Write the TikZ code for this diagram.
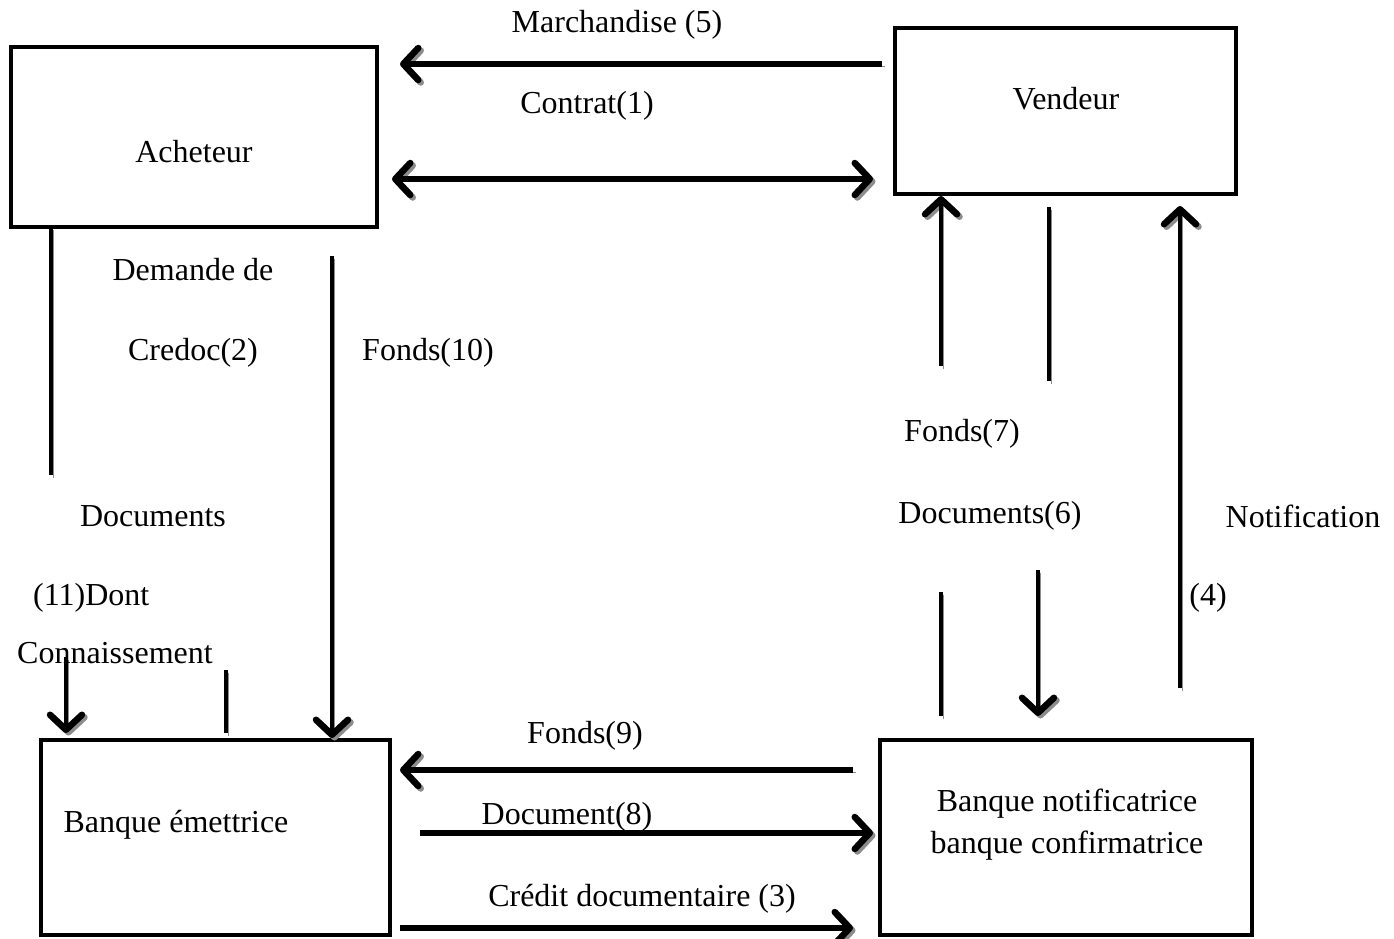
\documentclass[tikz,border=0pt]{standalone}
\usepackage{fontspec}
\setmainfont{Liberation Serif}
\usetikzlibrary{arrows.meta}
\begin{document}
\begin{tikzpicture}[x=1pt,y=-1pt,
  every node/.style={font=\fontsize{32}{38}\selectfont, inner sep=0pt},
  shade/.style={preaction={draw=black!45, transform canvas={shift={(2.5pt,-2.5pt)}}}},
  boxx/.style={draw, line width=4pt, rectangle, preaction={draw=black!40, transform canvas={shift={(1.5pt,-1.5pt)}}}},
  flow/.style={line width=5.5pt, shade},
  bar/.style={line width=4.5pt, shade},
  barb/.tip={Straight Barb[length=15pt,width=32pt,line width=6.5pt,round]},
  tip/.style={-barb},
  tips/.style={barb-barb}
]
\useasboundingbox (0,0) rectangle (1394,938);

% parties
\draw[boxx] (11,47) rectangle (377,227);
\draw[boxx] (895,28) rectangle (1236,194);
\draw[boxx] (41,740) rectangle (390,935);
\draw[boxx] (880,740) rectangle (1252,935);

\node (acheteur) at (194,152) {Acheteur};
\node (vendeur) at (1066,99) {Vendeur};
\node (emet) at (176,825) {Banque émettrice};
\node (notif1) at (1067,804) {Banque notificatrice};
\node (notif2) at (1067,846) {banque confirmatrice};

% connector ends
\coordinate (m5a) at (882,64);   \coordinate (m5b) at (400,64);
\coordinate (c1a) at (392,179);  \coordinate (c1b) at (873,179);
\coordinate (d2a) at (51,227);   \coordinate (d2b) at (51,475);
\coordinate (f10a) at (332,256); \coordinate (f10b) at (332,738);
\coordinate (d11a) at (66,657);  \coordinate (d11b) at (66,733);
\coordinate (d11c) at (226,670); \coordinate (d11d) at (226,733);
\coordinate (f7a) at (941,366);  \coordinate (f7b) at (941,196);
\coordinate (d6a) at (1049,207); \coordinate (d6b) at (1049,381);
\coordinate (n4a) at (1180,688); \coordinate (n4b) at (1180,206);
\coordinate (f7c) at (941,592);  \coordinate (f7d) at (941,716);
\coordinate (d6c) at (1038,570); \coordinate (d6d) at (1038,716);
\coordinate (f9a) at (853,770);  \coordinate (f9b) at (400,770);
\coordinate (d8a) at (420,833);  \coordinate (d8b) at (873,833);
\coordinate (c3a) at (400,928);  \coordinate (c3b) at (853,928);

% flows
\draw[flow,tip] (m5a) -- (m5b);
\draw[flow,tips] (c1a) -- (c1b);
\draw[bar] (d2a) -- (d2b);
\draw[bar,tip] (f10a) -- (f10b);
\draw[bar,tip] (d11a) -- (d11b);
\draw[bar] (d11c) -- (d11d);
\draw[bar,tip] (f7a) -- (f7b);
\draw[bar] (d6a) -- (d6b);
\draw[bar,tip] (n4a) -- (n4b);
\draw[bar] (f7c) -- (f7d);
\draw[bar,tip] (d6c) -- (d6d);
\draw[flow,tip] (f9a) -- (f9b);
\draw[flow,tip] (d8a) -- (d8b);
\draw[flow,tip] (c3a) -- (c3b);

% labels
\node (l5) at (617,25) {Marchandise (5)};
\node (l1) at (587,106) {Contrat(1)};
\node (l2a) at (193,270) {Demande de};
\node (l2b) at (193,353) {Credoc(2)};
\node (l10) at (428,353) {Fonds(10)};
\node (l11a) at (153,516) {Documents};
\node[anchor=west] (l11b) at (33,598) {(11)Dont};
\node[anchor=west] (l11c) at (17,653) {Connaissement};
\node (l7) at (962,434) {Fonds(7)};
\node (l6) at (990,516) {Documents(6)};
\node (l4a) at (1303,516) {Notification};
\node (l4b) at (1208,598) {(4)};
\node (l9) at (585,736) {Fonds(9)};
\node (l8) at (567,817) {Document(8)};
\node (l3) at (642,899) {Crédit documentaire (3)};
\end{tikzpicture}
\end{document}
